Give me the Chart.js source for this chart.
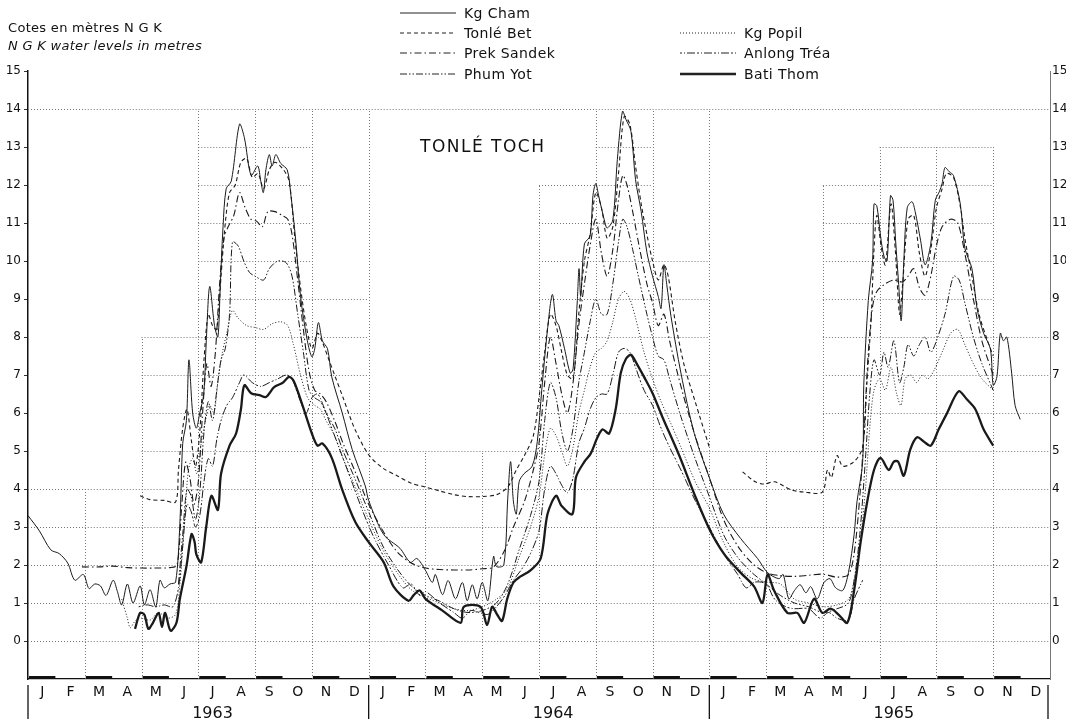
<!DOCTYPE html>
<html>
<head>
<meta charset="utf-8">
<script src="https://cdn.jsdelivr.net/npm/chart.js@4.4.1/dist/chart.umd.min.js"></script>
<style>
  body { margin: 0; background: #fff; font-family: "DejaVu Sans", sans-serif; color: #111; }
  #wrap { position: relative; width: 1066px; height: 723px; }
  #chart { position: absolute; left: 0; top: 0; }
  .note { position: absolute; font-size: 13px; letter-spacing: 0.3px; white-space: nowrap; }
  .leg { position: absolute; font-size: 14px; letter-spacing: 0.4px; white-space: nowrap; display: flex; align-items: center; }
  .leg svg { margin-right: 8px; }
  #station { position: absolute; left: 420px; top: 136px; font-size: 17px; letter-spacing: 1.5px; }
</style>
</head>
<body>
<div id="wrap">
  <canvas id="chart" width="1066" height="723"></canvas>
  <div class="note" style="left:8px; top:20px;">Cotes en mètres N G K</div>
  <div class="note" style="left:8px; top:38px; font-style:italic;">N G K water levels in metres</div>
  <div id="station">TONLÉ TOCH</div>
  <div id="legend"></div>
</div>
<script>
// x = months since 1 Jan 1963, y = water level (m NGK)
const monthLabels = ['J', 'F', 'M', 'A', 'M', 'J', 'J', 'A', 'S', 'O', 'N', 'D'];
const yearLabels = ['1963', '1964', '1965'];
const levelTicks = [0, 1, 2, 3, 4, 5, 6, 7, 8, 9, 10, 11, 12, 13, 14, 15];

// upper limit of the drawn grid, per two-month block
const gridTop = [4, 4, 8, 14, 14, 9, 5, 5, 5, 12, 14, 10, 5, 5, 12, 13, 13, 8];

const kgCham = [
    [0, 3.3], [0.4, 2.9], [0.8, 2.4], [1.1, 2.3], [1.4, 2.05], [1.65, 1.6], [1.95, 1.75], [2.15, 1.38], [2.35, 1.5],
    [2.55, 1.45], [2.75, 1.2], [3.0, 1.6], [3.15, 1.3], [3.3, 0.95], [3.5, 1.5], [3.7, 1.0], [3.95, 1.45], [4.1, 0.95],
    [4.3, 1.35], [4.5, 0.9], [4.65, 1.6], [4.8, 1.4], [5.0, 1.5], [5.2, 1.55], [5.35, 3.1], [5.45, 5.2], [5.58, 5.8],
    [5.67, 7.4], [5.8, 6.0], [5.93, 5.6], [6.05, 6.0], [6.19, 6.5], [6.28, 7.9], [6.4, 9.33], [6.57, 8.3], [6.69, 8.0],
    [6.77, 9.3], [6.87, 10.9], [6.98, 11.9], [7.16, 12.1], [7.45, 13.6], [7.62, 13.25], [7.86, 12.25], [8.09, 12.5],
    [8.2, 12.1], [8.29, 11.8], [8.38, 12.4], [8.5, 12.8], [8.6, 12.5], [8.73, 12.8], [8.9, 12.57], [9.13, 12.4],
    [9.25, 11.8], [9.43, 10.55], [9.6, 9.07], [9.84, 7.9], [10.0, 7.48], [10.1, 7.69], [10.23, 8.38], [10.37, 7.9],
    [10.55, 7.69], [10.7, 6.95], [11.07, 6.0], [11.42, 5.04], [11.88, 4.08], [12.0, 3.7], [12.53, 2.8], [13.1, 2.44],
    [13.47, 2.07], [13.7, 2.17], [14.0, 1.86], [14.24, 1.54], [14.35, 1.75], [14.6, 1.22], [14.8, 1.59], [15.06, 1.11],
    [15.3, 1.54], [15.47, 1.06], [15.65, 1.48], [15.82, 1.11], [16.0, 1.54], [16.2, 1.06], [16.4, 2.23], [16.5, 1.96],
    [16.76, 2.0], [16.9, 3.76], [17.0, 4.72], [17.1, 3.66], [17.2, 3.34], [17.3, 4.19], [17.47, 4.4], [17.76, 4.6],
    [17.94, 5.25], [18.1, 6.63], [18.3, 8.2], [18.47, 9.12], [18.6, 8.43], [18.7, 8.3], [18.9, 7.69], [19.1, 7.05],
    [19.2, 7.16], [19.35, 8.96], [19.41, 9.8], [19.47, 9.07], [19.6, 10.45], [19.8, 10.66], [19.9, 11.72], [20.0, 12.04],
    [20.1, 11.72], [20.3, 11.08], [20.4, 10.87], [20.6, 11.08], [20.76, 12.67], [20.94, 13.94], [21.06, 13.73],
    [21.24, 13.41], [21.4, 12.14], [21.6, 11.3], [21.8, 10.23], [22.0, 9.6], [22.2, 9.07], [22.3, 8.75], [22.4, 9.9],
    [22.5, 9.38], [22.65, 8.54], [23.0, 7.05], [23.47, 5.46], [24.0, 4.3], [24.5, 3.34], [25.1, 2.7], [25.7, 2.17],
    [26.05, 1.8], [26.45, 1.64], [26.6, 1.75], [26.8, 1.11], [27.0, 1.33], [27.2, 1.48], [27.4, 1.27], [27.57, 1.43],
    [27.8, 1.11], [28.04, 1.54], [28.25, 1.64], [28.45, 1.4], [28.7, 1.33], [28.9, 1.8], [29.1, 2.8], [29.2, 3.66],
    [29.4, 4.7], [29.44, 6.73], [29.6, 8.96], [29.75, 10.0], [29.8, 11.5], [29.9, 11.45], [30.03, 10.66], [30.15, 10.13],
    [30.26, 10.0], [30.38, 11.72], [30.47, 11.6], [30.56, 10.55], [30.67, 9.38], [30.76, 8.43], [30.85, 10.0],
    [30.97, 11.4], [31.14, 11.56], [31.25, 11.3], [31.44, 10.55], [31.6, 9.9], [31.8, 10.45], [31.96, 11.6],
    [32.1, 11.82], [32.2, 12.04], [32.3, 12.46], [32.45, 12.35], [32.6, 12.25], [32.84, 11.5], [33.0, 10.34],
    [33.25, 9.8], [33.43, 8.75], [33.66, 8.1], [33.9, 7.69], [34.0, 6.73], [34.13, 6.95], [34.25, 8.1], [34.36, 7.9],
    [34.48, 8.0], [34.65, 7.05], [34.77, 6.2], [34.95, 5.83]
];

const tonleBet = [
    [3.95, 3.82], [4.3, 3.72], [4.8, 3.7], [5.2, 3.66], [5.3, 4.5], [5.45, 5.6], [5.6, 6.1], [5.75, 5.3], [5.9, 4.6],
    [6.05, 5.5], [6.2, 7.4], [6.35, 8.6], [6.5, 8.3], [6.65, 8.2], [6.8, 9.6], [6.95, 11.0], [7.1, 11.8], [7.3, 12.0],
    [7.5, 12.6], [7.7, 12.7], [7.9, 12.2], [8.1, 12.3], [8.3, 11.9], [8.5, 12.4], [8.7, 12.6], [9.0, 12.4], [9.2, 12.1],
    [9.4, 10.6], [9.6, 9.3], [9.8, 8.3], [10.0, 7.7], [10.2, 8.1], [10.35, 7.9], [10.6, 7.4], [10.8, 7.0], [11.1, 6.4],
    [11.5, 5.6], [12.0, 4.9], [12.5, 4.55], [13.0, 4.35], [13.5, 4.15], [14.0, 4.05], [14.5, 3.95], [15.0, 3.85],
    [15.5, 3.8], [16.0, 3.8], [16.5, 3.85], [16.9, 4.05], [17.2, 4.5], [17.5, 4.9], [17.8, 5.4], [18.0, 6.4], [18.2, 7.6],
    [18.4, 8.6], [18.6, 8.3], [18.8, 7.6], [19.0, 7.0], [19.2, 6.9], [19.4, 8.6], [19.6, 10.0], [19.8, 10.7], [20.0, 11.8],
    [20.2, 11.4], [20.4, 10.6], [20.6, 10.9], [20.8, 12.3], [21.0, 13.8], [21.2, 13.6], [21.4, 12.5], [21.6, 11.5],
    [21.8, 10.7], [22.0, 10.0], [22.2, 9.5], [22.4, 9.9], [22.55, 9.6], [22.8, 8.4], [23.1, 7.3], [23.5, 6.3], [24.0, 5.1],
    [24.5, null], [25.17, 4.45], [25.6, 4.2], [25.93, 4.13], [26.3, 4.19], [26.87, 3.98], [27.34, 3.92], [27.98, 3.92],
    [28.16, 4.5], [28.3, 4.3], [28.5, 4.88], [28.7, 4.6], [29.1, 4.72], [29.4, 5.1], [29.55, 6.8], [29.7, 8.5],
    [29.8, 10.3], [29.9, 11.2], [30.05, 10.4], [30.2, 9.9], [30.4, 11.5], [30.55, 10.3], [30.7, 8.6], [30.8, 9.3],
    [31.0, 11.1], [31.2, 11.2], [31.4, 10.2], [31.6, 9.6], [31.8, 10.3], [32.0, 11.4], [32.2, 11.9], [32.35, 12.3],
    [32.6, 12.2], [32.85, 11.4], [33.0, 10.6], [33.25, 9.6], [33.5, 8.6], [33.8, 7.9], [34.0, 7.5]
];

const prekSandek = [
    [1.9, 1.95], [2.5, 1.95], [3.0, 1.97], [3.5, 1.93], [4.0, 1.92], [4.5, 1.92], [5.0, 1.93], [5.25, 2.0], [5.4, 3.4],
    [5.55, 4.7], [5.7, 4.3], [5.85, 3.6], [6.0, 4.2], [6.15, 6.0], [6.3, 7.3], [6.45, 6.7], [6.6, 7.6], [6.75, 9.4],
    [6.9, 10.6], [7.05, 10.9], [7.25, 11.2], [7.45, 11.8], [7.65, 11.4], [7.85, 11.1], [8.05, 11.05], [8.25, 10.9],
    [8.45, 11.3], [8.7, 11.3], [8.95, 11.2], [9.15, 11.1], [9.3, 10.7], [9.5, 9.5], [9.7, 8.2], [9.9, 7.1], [10.1, 6.6],
    [10.3, 6.5], [10.5, 6.3], [10.8, 5.8], [11.1, 5.2], [11.5, 4.5], [12.0, 3.6], [12.5, 2.9], [13.0, 2.35], [13.5, 2.05],
    [14.0, 1.92], [14.5, 1.88], [15.0, 1.87], [15.5, 1.87], [16.0, 1.9], [16.4, 1.95], [16.8, 2.4], [17.1, 3.0],
    [17.5, 3.7], [17.8, 4.5], [18.0, 5.2], [18.2, 6.8], [18.4, 8.0], [18.6, 7.3], [18.8, 6.5], [19.0, 6.0], [19.2, 6.8],
    [19.4, 8.3], [19.6, 9.4], [19.8, 10.4], [20.0, 11.1], [20.2, 10.2], [20.4, 9.6], [20.6, 10.3], [20.8, 11.6],
    [20.95, 12.25], [21.1, 12.0], [21.3, 11.3], [21.5, 10.5], [21.8, 9.4], [22.0, 8.9], [22.2, 8.3], [22.4, 8.6],
    [22.6, 7.9], [23.0, 6.7], [23.5, 5.4], [24.0, 4.3], [24.5, 3.2], [25.0, 2.5], [25.5, 2.05], [26.0, 1.8], [26.5, 1.72],
    [27.0, 1.7], [27.5, 1.73], [28.0, 1.76], [28.5, 1.68], [28.9, 1.75], [29.1, 2.3], [29.3, 3.8], [29.45, 5.5],
    [29.6, 7.6], [29.75, 8.8], [29.9, 9.2], [30.2, 9.4], [30.5, 9.5], [30.8, 9.45], [31.0, 9.6], [31.2, 9.8], [31.4, 9.3],
    [31.6, 9.1], [31.8, 9.6], [32.0, 10.4], [32.2, 10.9], [32.5, 11.1], [32.75, 11.0], [33.0, 10.2], [33.3, 9.0],
    [33.6, 7.9], [34.0, 7.0]
];

const phumYot = [
    [5.3, 1.5], [5.45, 2.8], [5.6, 4.0], [5.75, 3.8], [5.9, 3.2], [6.05, 3.9], [6.2, 5.5], [6.35, 6.3], [6.5, 5.8],
    [6.65, 6.6], [6.8, 7.4], [6.95, 7.7], [7.1, 8.6], [7.2, 10.5], [7.4, 10.4], [7.6, 10.0], [7.8, 9.7], [8.0, 9.6],
    [8.3, 9.5], [8.5, 9.8], [8.8, 10.0], [9.1, 9.95], [9.3, 9.6], [9.5, 8.6], [9.7, 7.6], [9.9, 6.6], [10.1, 6.4],
    [10.3, 6.3], [10.5, 6.0], [10.8, 5.6], [11.1, 5.0], [11.5, 4.3], [12.0, 3.4], [12.5, 2.5], [13.0, 1.9], [13.5, 1.45],
    [14.0, 1.2], [14.5, 1.05], [15.0, 0.85], [15.5, 0.75], [16.0, 0.8], [16.5, 1.0], [16.9, 1.5], [17.3, 2.4], [17.7, 3.3],
    [18.0, 4.2], [18.2, 5.8], [18.4, 6.8], [18.6, 6.4], [18.8, 5.5], [19.0, 5.0], [19.2, 5.6], [19.4, 6.8], [19.6, 7.6],
    [19.8, 8.4], [20.0, 9.0], [20.2, 8.6], [20.4, 8.6], [20.6, 9.4], [20.8, 10.5], [20.95, 11.1], [21.1, 10.9],
    [21.3, 10.3], [21.5, 9.6], [21.8, 8.6], [22.0, 8.0], [22.2, 7.5], [22.4, 7.4], [22.6, 6.9], [23.0, 5.9], [23.5, 4.8],
    [24.0, 3.8], [24.5, 2.8], [25.0, 2.2], [25.5, 1.8], [26.0, 1.5], [26.5, 1.2], [27.0, 1.0], [27.5, 0.9], [28.0, 0.75],
    [28.5, 0.85], [28.9, 1.0], [29.1, 1.6], [29.3, 2.8], [29.5, 4.8], [29.65, 6.5], [29.8, 7.4], [30.0, 7.0], [30.15, 7.6],
    [30.3, 7.2], [30.5, 7.9], [30.7, 6.8], [30.85, 7.2], [31.0, 7.8], [31.2, 7.5], [31.4, 7.8], [31.6, 8.0], [31.8, 7.6],
    [32.0, 7.9], [32.3, 8.6], [32.6, 9.6], [32.8, 9.5], [33.0, 8.9], [33.3, 8.0], [33.6, 7.3], [34.0, 6.6]
];

const kgPopil = [
    [3.3, 1.1], [3.5, 0.6], [3.6, 0.35], [3.8, 0.55], [4.0, 0.6], [4.3, 0.55], [4.6, 0.75], [4.9, 0.6], [5.2, 0.7],
    [5.35, 1.5], [5.5, 3.0], [5.65, 4.5], [5.8, 4.8], [5.95, 4.4], [6.1, 5.2], [6.25, 5.8], [6.4, 6.2], [6.55, 6.0],
    [6.7, 6.9], [6.85, 7.6], [7.0, 8.1], [7.2, 8.7], [7.4, 8.5], [7.7, 8.3], [8.0, 8.25], [8.3, 8.2], [8.6, 8.35],
    [8.9, 8.4], [9.15, 8.3], [9.35, 7.8], [9.6, 7.0], [9.85, 6.4], [10.1, 6.2], [10.3, 6.1], [10.5, 5.8], [10.8, 5.4],
    [11.1, 4.8], [11.5, 4.1], [12.0, 3.2], [12.5, 2.4], [13.0, 1.8], [13.5, 1.35], [14.0, 1.15], [14.5, 1.0], [15.0, 0.85],
    [15.5, 0.8], [16.0, 0.9], [16.5, 1.1], [16.9, 1.4], [17.3, 2.2], [17.7, 3.0], [18.0, 3.8], [18.2, 4.9], [18.4, 5.6],
    [18.6, 5.4], [18.8, 5.0], [19.0, 4.6], [19.2, 5.1], [19.4, 6.0], [19.6, 6.6], [19.8, 7.2], [20.0, 7.6], [20.2, 7.7],
    [20.4, 7.9], [20.6, 8.4], [20.8, 9.0], [21.0, 9.2], [21.2, 9.0], [21.4, 8.5], [21.7, 7.6], [22.0, 6.9], [22.3, 6.3],
    [22.6, 5.8], [23.0, 5.1], [23.5, 4.2], [24.0, 3.5], [24.5, 2.6], [25.0, 1.95], [25.5, 1.65], [26.0, 1.55],
    [26.5, 1.5], [27.0, 1.1], [27.5, 1.0], [28.0, 0.9], [28.5, 0.95], [28.9, 1.1], [29.1, 1.6], [29.3, 2.5], [29.5, 4.0],
    [29.65, 5.6], [29.8, 6.6], [30.0, 6.9], [30.2, 6.6], [30.4, 7.2], [30.6, 6.5], [30.75, 6.2], [30.9, 6.9], [31.1, 7.0],
    [31.3, 6.8], [31.5, 7.0], [31.7, 6.9], [31.9, 7.1], [32.2, 7.6], [32.5, 8.1], [32.75, 8.2], [33.0, 7.8], [33.3, 7.3],
    [33.6, 6.9], [34.0, 6.6]
];

const anlongTrea = [
    [3.9, 0.9], [4.2, 0.95], [4.5, 0.9], [4.8, 0.95], [5.1, 0.9], [5.3, 1.4], [5.45, 2.5], [5.6, 3.6], [5.75, 3.4],
    [5.9, 3.0], [6.05, 3.3], [6.2, 4.2], [6.35, 4.8], [6.5, 4.6], [6.65, 5.3], [6.8, 5.8], [7.0, 6.2], [7.2, 6.4],
    [7.45, 6.8], [7.6, 7.0], [7.9, 6.8], [8.2, 6.7], [8.5, 6.8], [8.8, 6.9], [9.1, 7.0], [9.3, 6.9], [9.55, 6.4],
    [9.8, 6.0], [10.0, 6.4], [10.2, 6.5], [10.4, 6.2], [10.7, 5.6], [11.0, 5.0], [11.4, 4.2], [11.8, 3.4], [12.2, 2.7],
    [12.7, 2.0], [13.2, 1.4], [13.5, 1.5], [13.8, 1.2], [14.0, 1.3], [14.5, 1.0], [15.0, 0.75], [15.3, 0.6], [15.6, 0.8],
    [15.9, 0.75], [16.2, 0.7], [16.5, 0.9], [16.8, 1.2], [17.1, 1.6], [17.4, 1.9], [17.7, 2.3], [18.0, 2.9], [18.2, 4.0],
    [18.4, 4.6], [18.6, 4.4], [18.8, 4.1], [19.0, 3.9], [19.2, 4.3], [19.4, 5.2], [19.6, 5.6], [19.8, 6.1], [20.0, 6.4],
    [20.2, 6.5], [20.4, 6.5], [20.6, 7.0], [20.8, 7.6], [21.0, 7.7], [21.2, 7.6], [21.4, 7.2], [21.7, 6.6], [22.0, 6.2],
    [22.3, 5.6], [22.6, 5.1], [23.0, 4.5], [23.5, 3.7], [24.0, 3.0], [24.5, 2.3], [25.0, 1.75], [25.3, 1.4], [25.6, 1.55],
    [26.0, 1.5], [26.3, 1.1], [26.7, 0.9], [27.0, 0.85], [27.5, 0.85], [27.9, 0.6], [28.2, 0.75], [28.5, 0.6],
    [28.9, 0.55], [29.1, 1.1], [29.4, 1.6]
];

const batiThom = [
    [3.77, 0.32], [3.95, 0.74], [4.1, 0.69], [4.24, 0.32], [4.4, 0.48], [4.6, 0.74], [4.72, 0.37], [4.83, 0.74],
    [5.02, 0.27], [5.23, 0.48], [5.35, 1.11], [5.58, 1.96], [5.76, 2.81], [5.87, 2.6], [5.93, 2.28], [6.1, 2.07],
    [6.28, 3.02], [6.46, 3.82], [6.69, 3.45], [6.8, 4.4], [7.1, 5.14], [7.33, 5.46], [7.5, 6.1], [7.62, 6.73],
    [7.86, 6.52], [8.15, 6.47], [8.38, 6.42], [8.67, 6.68], [8.96, 6.79], [9.2, 6.95], [9.36, 6.84], [9.67, 6.2],
    [10.0, 5.46], [10.2, 5.14], [10.37, 5.2], [10.7, 4.82], [11.07, 3.98], [11.53, 3.13], [12.0, 2.6], [12.53, 2.07],
    [12.88, 1.43], [13.4, 1.06], [13.6, 1.22], [13.8, 1.33], [14.0, 1.11], [14.6, 0.8], [15.24, 0.48], [15.35, 0.9],
    [15.94, 0.9], [16.17, 0.42], [16.35, 0.9], [16.53, 0.69], [16.7, 0.53], [16.88, 1.11], [17.1, 1.54], [17.35, 1.7],
    [17.7, 1.86], [18.06, 2.17], [18.3, 3.34], [18.6, 3.82], [18.8, 3.55], [19.18, 3.34], [19.3, 4.3], [19.6, 4.72],
    [19.82, 4.93], [20.06, 5.36], [20.24, 5.57], [20.47, 5.46], [20.7, 6.1], [20.88, 7.05], [21.06, 7.42], [21.24, 7.53],
    [21.47, 7.26], [21.7, 6.95], [22.0, 6.52], [22.35, 5.89], [22.94, 4.88], [23.47, 3.87], [24.0, 2.95], [24.53, 2.28],
    [25.1, 1.8], [25.58, 1.43], [25.87, 1.0], [26.05, 1.75], [26.28, 1.33], [26.75, 0.74], [27.1, 0.74], [27.34, 0.48],
    [27.69, 1.11], [27.98, 0.74], [28.27, 0.85], [28.56, 0.69], [28.86, 0.48], [29.1, 1.33], [29.33, 2.6], [29.56, 3.66],
    [29.8, 4.5], [30.03, 4.82], [30.32, 4.5], [30.5, 4.72], [30.65, 4.72], [30.85, 4.35], [31.08, 5.04], [31.32, 5.36],
    [31.55, 5.25], [31.8, 5.14], [32.08, 5.57], [32.37, 5.99], [32.78, 6.57], [33.07, 6.36], [33.37, 6.1], [33.66, 5.57],
    [34.0, 5.14]
];

const seriesNames = ['Kg Cham', 'Tonlé Bet', 'Prek Sandek', 'Phum Yot', 'Kg Popil', 'Anlong Tréa', 'Bati Thom'];
const seriesData = [kgCham, tonleBet, prekSandek, phumYot, kgPopil, anlongTrea, batiThom];
const seriesDash = [[], [4, 3], [7, 3, 1.5, 3], [7, 2, 1.5, 2, 1.5, 2], [1, 2], [2, 2, 1, 2, 8, 2], []];
const seriesWidth = [1, 1.1, 1.1, 1, 1, 1, 2.3];

// Legend placement (column x, row y)
const legendPos = [[400, 5], [400, 25], [400, 45], [400, 66], [680, 25], [680, 45], [680, 66]];

function buildLegend() {
    const legend = document.getElementById('legend');
    seriesNames.forEach((name, i) => {
        const item = document.createElement('div');
        item.className = 'leg';
        item.style.left = legendPos[i][0] + 'px';
        item.style.top = legendPos[i][1] + 'px';
        const dash = seriesDash[i].length ? seriesDash[i].join(' ') : 'none';
        item.innerHTML = '<svg width="56" height="6"><line x1="0" y1="3" x2="56" y2="3" stroke="#222" stroke-width="' +
            seriesWidth[i] + '" stroke-dasharray="' + dash + '"/></svg><span>' + name + '</span>';
        legend.appendChild(item);
    });
}
buildLegend();

// Dotted staircase grid, drawn behind the lines
const stepGrid = {
    id: 'stepGrid',
    beforeDatasetsDraw(chart) {
        const ctx = chart.ctx;
        const x = chart.scales.x;
        const y = chart.scales.y;
        ctx.save();
        ctx.strokeStyle = '#777';
        ctx.lineWidth = 1;
        ctx.setLineDash([1, 2]);
        for (let level = 0; level <= 14; level++) {
            gridTop.forEach((top, b) => {
                if (top >= level || level === 14) {
                    const py = Math.round(y.getPixelForValue(level)) + 0.5;
                    ctx.beginPath();
                    ctx.moveTo(x.getPixelForValue(b * 2), py);
                    ctx.lineTo(x.getPixelForValue(b * 2 + 2), py);
                    ctx.stroke();
                }
            });
        }
        for (let k = 1; k < gridTop.length; k++) {
            let top = Math.max(gridTop[k - 1], gridTop[k]);
            if (k % 6 === 0) top = 14;
            const px = Math.round(x.getPixelForValue(k * 2)) + 0.5;
            ctx.beginPath();
            ctx.moveTo(px, y.getPixelForValue(-1));
            ctx.lineTo(px, y.getPixelForValue(top));
            ctx.stroke();
        }
        ctx.restore();
    },
    afterDraw(chart) {
        const ctx = chart.ctx;
        const x = chart.scales.x;
        const y = chart.scales.y;
        const base = y.getPixelForValue(-1);
        ctx.save();
        ctx.strokeStyle = '#111';
        // thick marks under every other month
        ctx.lineWidth = 3;
        for (let m = 0; m < 36; m += 2) {
            ctx.beginPath();
            ctx.moveTo(x.getPixelForValue(m) + 1, base - 1.5);
            ctx.lineTo(x.getPixelForValue(m + 1) - 1, base - 1.5);
            ctx.stroke();
        }
        // year separators
        ctx.lineWidth = 1.3;
        for (let m = 0; m <= 36; m += 12) {
            const px = x.getPixelForValue(m) + (m === 36 ? -2 : 0);
            ctx.beginPath();
            ctx.moveTo(px, base + 6);
            ctx.lineTo(px, base + 40);
            ctx.stroke();
        }
        ctx.restore();
    }
};

const ctx = document.getElementById('chart').getContext('2d');
new Chart(ctx, {
    type: 'line',
    data: {
        datasets: seriesNames.map((name, i) => ({
            label: name,
            data: seriesData[i].map(p => ({ x: p[0], y: p[1] })),
            borderColor: '#1a1a1a',
            borderWidth: seriesWidth[i],
            borderDash: seriesDash[i],
            pointRadius: 0,
            tension: 0.3,
            spanGaps: false
        }))
    },
    options: {
        responsive: false,
        animation: false,
        layout: { padding: { top: 71, left: 0, right: 0, bottom: 0 } },
        plugins: { legend: { display: false }, tooltip: { enabled: false } },
        scales: {
            x: {
                type: 'linear', min: 0, max: 36, position: 'bottom', weight: 0,
                grid: { display: false },
                border: { display: true, color: '#111', width: 1.2 },
                afterBuildTicks: axis => { axis.ticks = monthLabels.concat(monthLabels, monthLabels).map((l, i) => ({ value: i + 0.5 })); },
                afterFit: axis => { axis.height = 22; },
                ticks: {
                    autoSkip: false, maxRotation: 0, padding: -3, color: '#111',
                    font: { family: 'DejaVu Sans', size: 14 },
                    callback: v => monthLabels[Math.floor(v) % 12]
                }
            },
            x2: {
                type: 'linear', min: 0, max: 36, position: 'bottom', weight: 1,
                grid: { display: false },
                border: { display: false },
                afterBuildTicks: axis => { axis.ticks = yearLabels.map((l, i) => ({ value: i * 12 + 6.5 })); },
                afterFit: axis => { axis.height = 22; },
                ticks: {
                    autoSkip: false, maxRotation: 0, padding: -5, color: '#111',
                    font: { family: 'DejaVu Sans', size: 16 },
                    callback: v => yearLabels[Math.floor(v / 12)]
                }
            },
            y: {
                type: 'linear', min: -1, max: 15, position: 'left',
                grid: { drawOnChartArea: false, drawTicks: true, tickLength: 4, color: '#333' },
                border: { display: true, color: '#111', width: 1.5 },
                afterBuildTicks: axis => { axis.ticks = levelTicks.map(v => ({ value: v })); },
                afterFit: axis => { axis.width = 28; },
                ticks: { padding: 3, color: '#111', font: { family: 'DejaVu Sans', size: 12 } }
            },
            y2: {
                type: 'linear', min: -1, max: 15, position: 'right',
                grid: { drawOnChartArea: false, drawTicks: false },
                border: { display: true, color: '#777', width: 1, dash: [1, 2] },
                afterBuildTicks: axis => { axis.ticks = levelTicks.map(v => ({ value: v })); },
                afterFit: axis => { axis.width = 16; },
                ticks: { padding: 2, color: '#111', font: { family: 'DejaVu Sans', size: 12 } }
            }
        }
    },
    plugins: [stepGrid]
});
</script>
</body>
</html>
